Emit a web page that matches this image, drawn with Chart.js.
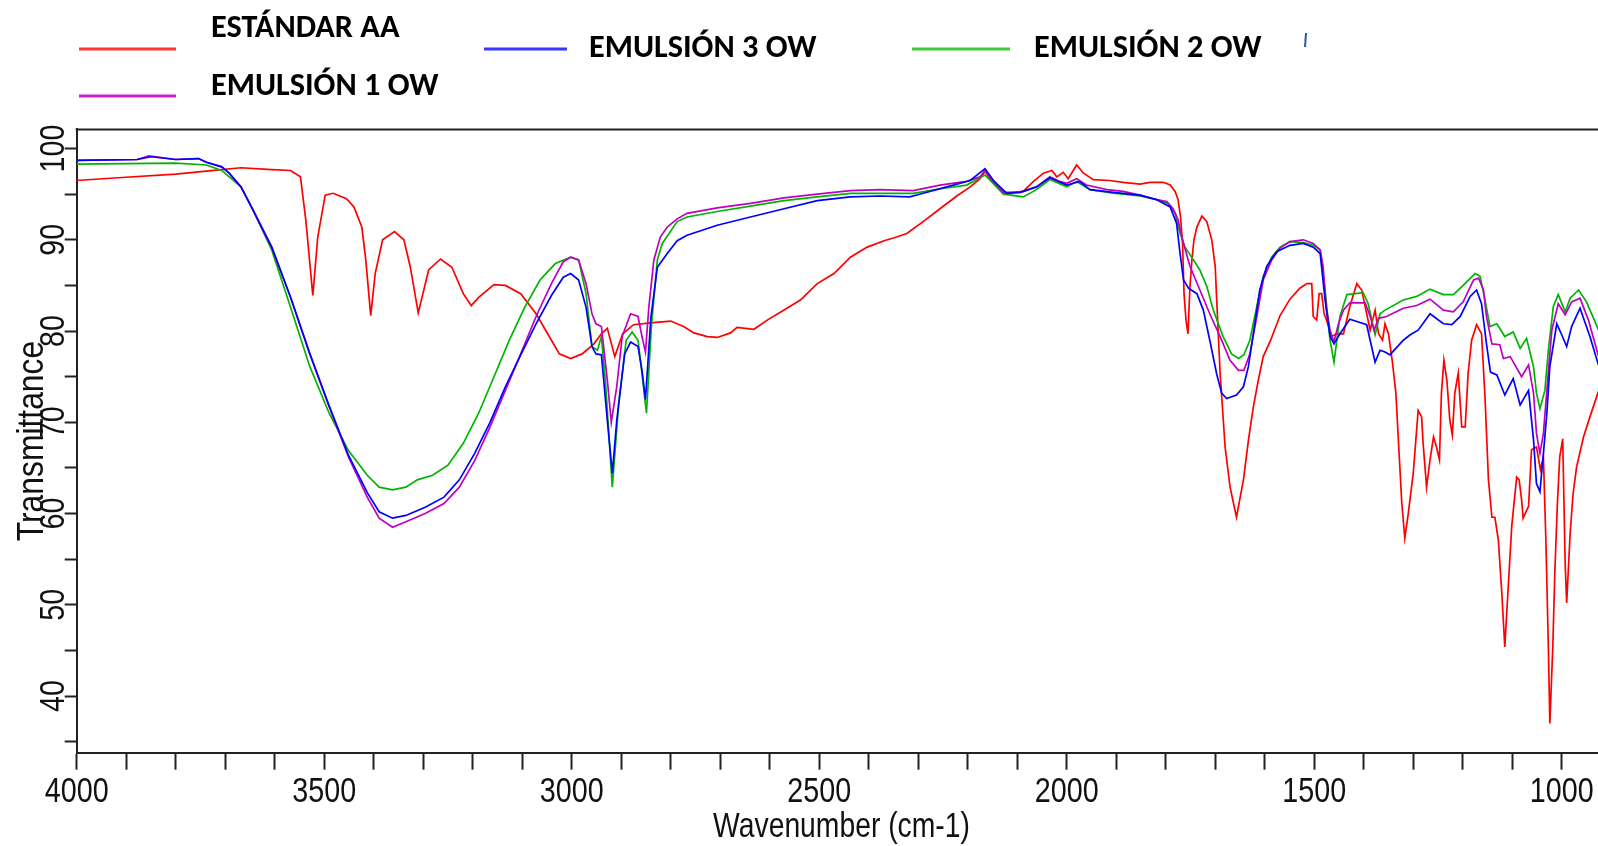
<!DOCTYPE html>
<html>
<head>
<meta charset="utf-8">
<script src="https://cdn.jsdelivr.net/npm/chart.js@4.4.1/dist/chart.umd.min.js"></script>
<style>
  html, body { margin: 0; padding: 0; background: #fff; }
  #wrap { width: 1598px; height: 846px; position: relative; }
  canvas { display: block; }
</style>
</head>
<body>
<div id="wrap"><canvas id="ftir" width="1598" height="846"></canvas></div>
<script>
// FTIR spectra: transmittance (%) against wavenumber (cm-1)

const seriesNames = ['ESTÁNDAR AA', 'EMULSIÓN 1 OW', 'EMULSIÓN 3 OW', 'EMULSIÓN 2 OW'];

const xTickLabels = [4000, 3500, 3000, 2500, 2000, 1500, 1000];
const yTickLabels = [40, 50, 60, 70, 80, 90, 100];
const xAxisTitle = 'Wavenumber (cm-1)';
const yAxisTitle = 'Transmittance';

// ESTÁNDAR AA
const estandarWn = [4000,3916,3800,3723,3668,3606,3568,3548,3537,3523,3513,3498,3482,3455,3440,3424,3416,3406,3397,3382,3358,3339,3326,3310,3289,3265,3242,3219,3203,3188,3157,3134,3103,3072,3041,3025,3002,2979,2955,2940,2928,2913,2897,2875,2841,2800,2774,2753,2726,2706,2679,2666,2632,2605,2571,2538,2504,2470,2437,2403,2369,2350,2323,2290,2256,2222,2195,2175,2165,2155,2128,2088,2067,2047,2030,2020,2007,1997,1980,1966,1946,1913,1886,1852,1832,1805,1791,1781,1775,1770,1766,1763,1759,1755,1751,1747,1743,1737,1727,1717,1707,1700,1697,1690,1680,1670,1657,1643,1633,1623,1613,1603,1588,1569,1549,1529,1515,1505,1502,1495,1490,1485,1480,1475,1465,1455,1441,1428,1414,1404,1394,1387,1377,1370,1362,1357,1350,1342,1335,1330,1323,1317,1310,1300,1290,1283,1280,1273,1266,1259,1253,1247,1243,1238,1232,1226,1221,1216,1209,1202,1195,1189,1182,1172,1162,1155,1148,1141,1135,1128,1121,1115,1108,1101,1091,1086,1081,1078,1067,1061,1051,1043,1037,1032,1027,1024,1018,1014,1009,1004,998,993,990,983,977,970,956,943,927,924];
const estandarT = [96.5,96.8,97.2,97.6,97.9,97.7,97.6,96.9,92.1,83.9,90.3,94.9,95.1,94.5,93.6,91.4,87.8,81.7,86.3,90.0,90.9,90.0,87.0,82.0,86.7,87.9,87.0,84.1,82.8,83.7,85.1,85.0,84.1,81.9,79.0,77.5,77.0,77.5,78.6,79.7,80.3,77.2,79.7,80.7,80.9,81.1,80.5,79.8,79.4,79.3,79.8,80.4,80.2,81.2,82.3,83.4,85.2,86.3,88.1,89.2,89.9,90.2,90.7,92.0,93.4,94.8,95.8,96.7,97.5,96.7,95.1,95.3,96.4,97.3,97.6,96.9,97.4,96.7,98.2,97.3,96.6,96.5,96.3,96.1,96.3,96.3,96.0,95.3,94.4,92.5,89.6,84.1,81.2,79.7,84.9,87.8,90.0,91.4,92.6,92.0,90.0,87.1,83.4,75.3,67.3,62.9,59.6,63.7,68.0,71.7,74.6,77.2,79.0,81.7,83.5,84.7,85.2,85.2,81.6,81.2,84.1,84.1,81.9,81.2,79.4,79.7,79.7,82.7,85.2,84.5,81.9,80.1,82.3,79.7,79.0,80.8,79.7,76.6,73.2,68.1,61.1,57.3,60.0,64.4,71.3,70.6,67.7,62.9,65.9,68.4,67.3,65.9,73.2,76.8,74.6,70.2,68.6,73.2,75.4,69.5,69.5,75.4,79.0,80.7,79.7,72.8,63.7,59.6,59.6,57.1,51.3,45.4,52.0,58.6,64.0,63.7,61.5,59.5,60.8,67.0,67.3,64.8,66.2,57.1,45.4,37.0,45.4,53.4,60.8,66.2,68.2,54.5,50.2,57.8,62.2,65.1,68.4,70.6,73.2,73.6];

// EMULSIÓN 1 OW
const emulsion1Wn = [4000,3878,3854,3800,3754,3738,3707,3692,3668,3645,3606,3568,3529,3490,3451,3413,3389,3362,3335,3296,3258,3227,3196,3165,3134,3103,3072,3041,3017,3002,2986,2971,2959,2951,2940,2928,2920,2909,2898,2881,2866,2858,2851,2844,2834,2821,2807,2787,2767,2706,2639,2571,2504,2437,2377,2310,2256,2202,2175,2165,2155,2128,2094,2061,2034,2014,2000,1980,1960,1919,1886,1852,1818,1798,1785,1775,1764,1751,1731,1711,1690,1670,1653,1642,1630,1616,1603,1586,1569,1549,1522,1502,1488,1482,1476,1468,1460,1451,1441,1428,1397,1387,1379,1370,1354,1320,1293,1266,1239,1219,1199,1178,1168,1158,1152,1141,1125,1118,1104,1081,1067,1057,1051,1044,1037,1030,1020,1007,993,980,963,946,927,924];
const emulsion1T = [98.7,98.8,99.2,98.8,98.9,98.5,98.0,97.3,95.8,93.4,89.2,83.7,77.5,71.7,66.2,61.8,59.5,58.5,59.1,60.0,61.1,62.9,65.8,69.5,73.5,77.5,81.6,85.2,87.6,88.1,87.8,85.2,81.9,80.8,80.5,74.6,70.0,73.9,79.4,81.9,81.6,79.4,77.7,82.7,87.8,90.3,91.4,92.3,92.9,93.5,94.0,94.6,95.0,95.4,95.5,95.4,96.0,96.4,96.9,97.6,96.9,95.2,95.2,95.8,96.9,96.4,96.2,96.7,96.0,95.5,95.3,94.9,94.4,94.2,93.4,92.2,89.6,87.1,84.5,81.9,79.4,76.8,75.7,75.7,77.5,81.6,85.6,87.8,89.1,89.8,90.0,89.6,88.9,87.1,82.7,80.1,78.8,80.8,82.3,83.1,83.1,81.6,80.1,81.4,81.6,82.5,82.8,83.5,82.3,82.1,83.2,85.6,85.8,84.5,81.6,78.6,78.5,77.0,77.2,75.0,76.3,73.2,68.8,66.6,68.8,73.5,80.1,83.0,81.8,83.2,83.6,81.2,77.5,77.0];

// EMULSIÓN 3 OW
const emulsion3Wn = [4000,3878,3850,3800,3754,3738,3707,3692,3668,3645,3606,3568,3529,3490,3451,3413,3389,3362,3335,3296,3258,3227,3196,3165,3134,3103,3072,3041,3017,3002,2986,2971,2959,2951,2940,2928,2918,2909,2893,2881,2866,2858,2851,2840,2827,2807,2787,2767,2706,2639,2571,2504,2437,2377,2317,2290,2242,2195,2165,2148,2121,2094,2061,2034,2000,1974,1953,1906,1852,1818,1791,1778,1771,1764,1754,1737,1724,1711,1697,1687,1677,1657,1643,1633,1623,1610,1596,1576,1549,1522,1502,1488,1478,1468,1460,1448,1428,1394,1387,1377,1367,1357,1347,1320,1306,1290,1266,1239,1222,1205,1185,1172,1162,1152,1144,1131,1115,1098,1084,1067,1057,1051,1044,1037,1030,1024,1010,1000,990,980,963,943,927,924];
const emulsion3T = [98.7,98.8,99.1,98.8,98.9,98.5,98.0,97.3,95.8,93.4,89.2,83.7,77.5,71.8,66.4,62.3,60.2,59.5,59.8,60.7,61.8,63.7,66.6,70.0,73.9,77.4,80.8,83.9,85.9,86.3,85.6,82.6,78.3,77.5,77.4,70.2,64.4,70.2,77.5,78.8,78.3,75.7,72.5,81.5,87.0,88.5,89.9,90.5,91.6,92.5,93.4,94.3,94.7,94.8,94.7,95.1,95.8,96.5,97.8,96.5,95.1,95.2,95.8,96.8,96.0,96.4,95.5,95.2,94.9,94.4,93.6,91.8,88.5,85.6,84.7,84.1,82.3,79.0,75.3,73.2,72.6,73.0,73.9,76.1,79.7,84.5,87.1,88.7,89.4,89.6,89.2,88.5,83.4,79.4,78.6,79.7,81.3,80.7,79.0,76.6,77.9,77.7,77.4,79.0,79.6,80.1,81.9,80.8,80.7,81.6,83.8,84.5,83.0,78.6,75.5,75.2,73.0,74.8,71.9,73.5,68.1,63.3,62.4,66.6,71.0,76.1,80.8,79.6,78.3,80.5,82.5,79.4,76.5,76.0];

// EMULSIÓN 2 OW
const emulsion2Wn = [4000,3800,3738,3707,3668,3645,3606,3568,3529,3490,3451,3413,3389,3362,3335,3312,3281,3250,3219,3188,3157,3126,3095,3064,3033,3002,2986,2971,2959,2948,2940,2932,2918,2905,2890,2878,2866,2858,2849,2839,2827,2817,2787,2767,2706,2639,2571,2504,2437,2377,2310,2256,2202,2165,2128,2088,2061,2034,2000,1980,1953,1906,1852,1818,1795,1781,1771,1761,1744,1731,1717,1704,1684,1667,1653,1642,1630,1616,1603,1586,1569,1549,1522,1502,1488,1478,1468,1460,1448,1434,1401,1391,1377,1367,1357,1320,1293,1266,1239,1219,1199,1175,1165,1155,1145,1131,1115,1098,1084,1071,1057,1051,1044,1034,1027,1017,1007,993,983,966,950,927,924];
const emulsion2T = [98.3,98.4,98.2,97.6,95.8,93.4,88.9,82.6,76.1,71.0,66.9,64.2,62.9,62.6,62.9,63.7,64.2,65.3,67.7,71.0,75.0,79.0,82.6,85.6,87.4,88.1,87.8,84.1,78.3,77.9,79.4,74.6,62.9,72.1,79.0,79.9,79.0,75.3,71.0,80.5,87.8,89.6,92.0,92.5,93.1,93.7,94.3,94.7,95.1,95.1,95.1,95.6,96.0,97.1,95.0,94.7,95.5,96.6,95.8,96.4,95.5,95.1,94.8,94.4,94.0,92.9,90.7,89.2,87.8,86.7,84.9,82.3,79.4,77.5,77.0,77.4,79.0,82.7,86.0,88.1,89.2,89.8,89.7,89.4,88.9,84.5,79.0,76.6,81.6,84.0,84.2,83.0,79.6,81.9,82.3,83.4,83.8,84.6,84.0,84.0,85.0,86.3,86.0,83.4,80.5,80.8,79.4,79.9,78.1,79.2,76.1,73.2,71.5,73.5,77.9,82.7,84.0,82.1,83.6,84.5,83.2,80.3,79.8];

const lineColors = ['#ff0000', '#c000c0', '#0000ff', '#00b400'];
const keyColors  = ['#ff3535', '#c824c8', '#3838ff', '#3ccc3c'];

const toPoints = (wn, t) => wn.map((w, i) => ({ x: w, y: t[i] }));

const axisFont = '"Liberation Sans", Arial, sans-serif';
const inkColor = '#111';
const axisColor = '#222';

// Condensed sans text: Liberation Sans squeezed horizontally
function narrowText(ctx, text, x, y, size, squeeze, rotated) {
  ctx.save();
  ctx.translate(x, y);
  if (rotated) ctx.rotate(-Math.PI / 2);
  ctx.scale(squeeze, 1);
  ctx.font = size + 'px ' + axisFont;
  ctx.textAlign = 'center';
  ctx.textBaseline = 'alphabetic';
  ctx.fillText(text, 0, 0);
  ctx.restore();
}

// Key drawn above the plot: swatch line and bold caption for each series
const keyLayout = [
  { series: 0, x1: 79,  x2: 176,  y: 49, tx: 211,  ty: 37 },
  { series: 1, x1: 79,  x2: 176,  y: 96, tx: 211,  ty: 95 },
  { series: 2, x1: 484, x2: 567,  y: 49, tx: 589,  ty: 56.5 },
  { series: 3, x1: 912, x2: 1010, y: 49, tx: 1034, ty: 56.5 }
];

const keyPlugin = {
  id: 'seriesKey',
  afterDraw(chart) {
    const ctx = chart.ctx;
    ctx.save();
    ctx.lineCap = 'butt';
    keyLayout.forEach(k => {
      ctx.strokeStyle = keyColors[k.series];
      ctx.lineWidth = 3;
      ctx.beginPath();
      ctx.moveTo(k.x1, k.y);
      ctx.lineTo(k.x2, k.y);
      ctx.stroke();
      ctx.fillStyle = '#000';
      ctx.font = 'bold 32.3px Carlito, Lato, sans-serif';
      ctx.textAlign = 'left';
      ctx.textBaseline = 'alphabetic';
      ctx.fillText(seriesNames[k.series], k.tx, k.ty);
    });
    // small stray stroke to the right of the key
    ctx.strokeStyle = '#2a5aa8';
    ctx.lineWidth = 2;
    ctx.beginPath();
    ctx.moveTo(1306, 33);
    ctx.lineTo(1305, 47);
    ctx.stroke();
    ctx.restore();
  }
};

// Top frame line, tick labels and axis titles
const framePlugin = {
  id: 'frame',
  afterDraw(chart) {
    const { ctx, chartArea } = chart;
    const xs = chart.scales.x;
    const ys = chart.scales.y;
    ctx.save();
    ctx.strokeStyle = axisColor;
    ctx.lineWidth = 2;
    ctx.beginPath();
    ctx.moveTo(chartArea.left - 1, chartArea.top);
    ctx.lineTo(chartArea.right, chartArea.top);
    ctx.stroke();

    ctx.fillStyle = inkColor;
    xs.ticks.forEach(t => {
      if (!xTickLabels.includes(t.value)) return;
      narrowText(ctx, String(t.value), xs.getPixelForValue(t.value), xs.top + 49.3, 35, 0.82, false);
    });
    ys.ticks.forEach(t => {
      if (!yTickLabels.includes(t.value)) return;
      narrowText(ctx, String(t.value), ys.right - 13, ys.getPixelForValue(t.value), 35, 0.82, true);
    });
    narrowText(ctx, xAxisTitle, 841.5, xs.top + 83.8, 34.5, 0.82, false);
    narrowText(ctx, yAxisTitle, 42.8, (chartArea.top + chartArea.bottom) / 2, 37, 0.86, true);
    ctx.restore();
  }
};

const datasets = [
  { label: seriesNames[0], data: toPoints(estandarWn, estandarT), borderColor: lineColors[0], order: 4 },
  { label: seriesNames[1], data: toPoints(emulsion1Wn, emulsion1T), borderColor: lineColors[1], order: 2 },
  { label: seriesNames[2], data: toPoints(emulsion3Wn, emulsion3T), borderColor: lineColors[2], order: 1 },
  { label: seriesNames[3], data: toPoints(emulsion2Wn, emulsion2T), borderColor: lineColors[3], order: 3 }
].map(d => Object.assign(d, { borderWidth: 1.7, pointRadius: 0, tension: 0, fill: false }));

new Chart(document.getElementById('ftir'), {
  type: 'line',
  data: { datasets },
  options: {
    responsive: false,
    animation: false,
    devicePixelRatio: 1,
    layout: { padding: { top: 129.4, left: 0, right: 0, bottom: 0 } },
    plugins: { legend: { display: false }, tooltip: { enabled: false } },
    scales: {
      x: {
        type: 'linear',
        reverse: true,
        min: 926.7,
        max: 4000,
        afterFit(scale) { scale.height = 93.3; scale.paddingLeft = 0; scale.paddingRight = 0; },
        grid: { display: true, drawOnChartArea: false, drawTicks: true, tickLength: 17, tickWidth: 2, tickColor: axisColor },
        border: { display: true, color: axisColor, width: 2 },
        ticks: {
          stepSize: 100,
          includeBounds: false,
          autoSkip: false,
          maxRotation: 0,
          minRotation: 0,
          callback: () => ''
        },
        title: { display: false }
      },
      y: {
        type: 'linear',
        min: 33.8,
        max: 102.1,
        afterFit(scale) { scale.width = 76.7; },
        grid: { display: true, drawOnChartArea: false, drawTicks: true, tickLength: 12, tickWidth: 2, tickColor: axisColor },
        border: { display: true, color: axisColor, width: 2 },
        ticks: {
          stepSize: 5,
          includeBounds: false,
          autoSkip: false,
          callback: () => ''
        },
        title: { display: false }
      }
    }
  },
  plugins: [keyPlugin, framePlugin]
});
</script>
</body>
</html>
